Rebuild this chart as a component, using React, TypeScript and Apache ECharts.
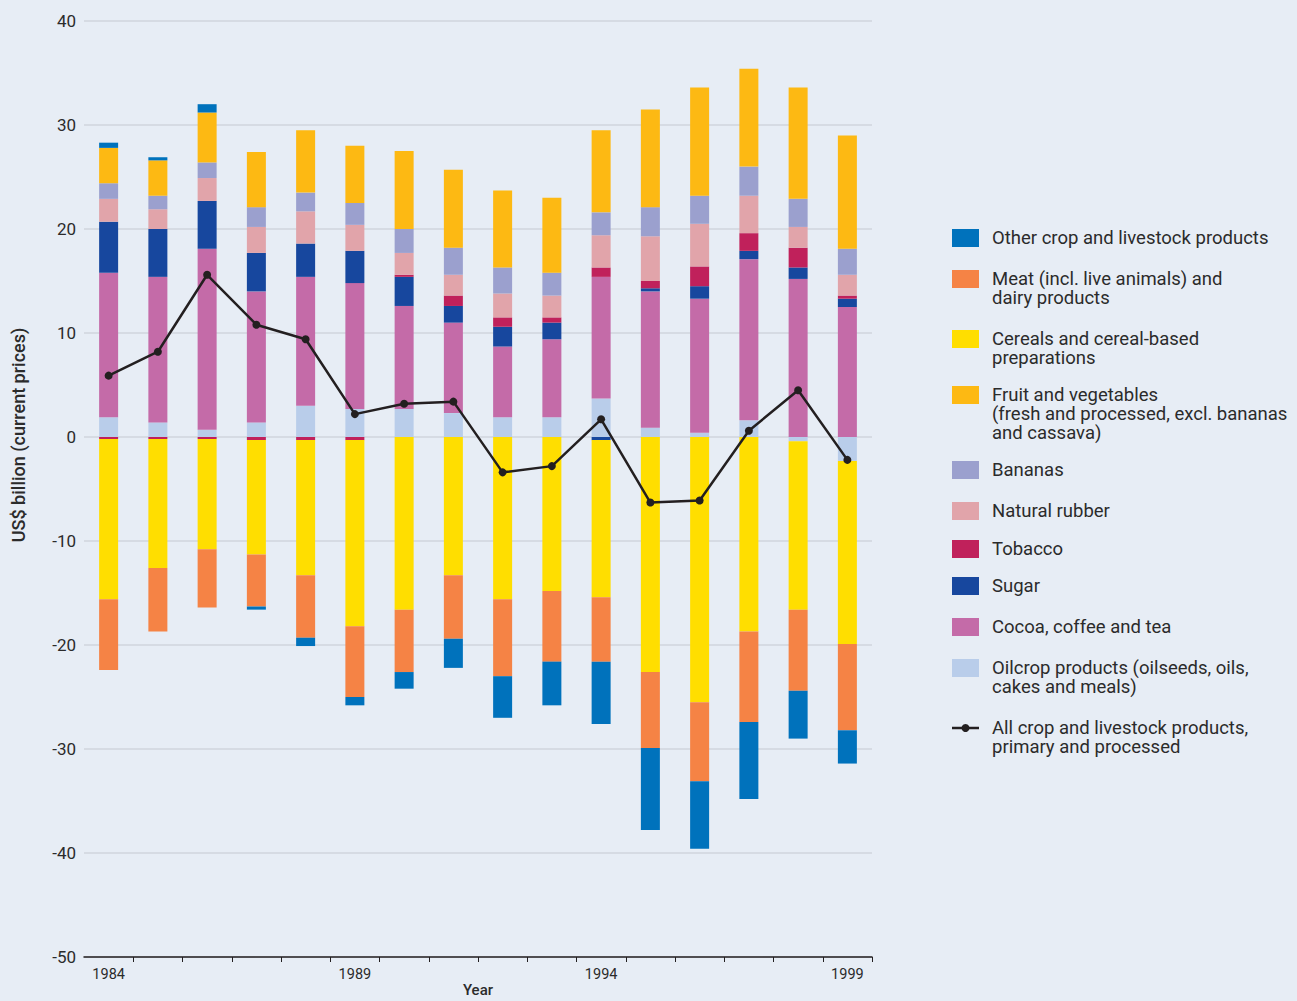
import React, { useEffect, useRef } from "react";
import * as echarts from "echarts";

const years = ["1984","1985","1986","1987","1988","1989","1990","1991","1992","1993","1994","1995","1996","1997","1998","1999"];

const oilcrop = [1.9, 1.4, 0.7, 1.4, 3.0, 2.7, 2.7, 2.3, 1.9, 1.9, 3.7, 0.9, 0.4, 1.6, -0.4, -2.3];
const cocoa = [13.9, 14.0, 17.4, 12.6, 12.4, 12.1, 9.9, 8.7, 6.8, 7.5, 11.7, 13.1, 12.9, 15.5, 15.2, 12.5];
const sugar = [4.9, 4.6, 4.6, 3.7, 3.2, 3.1, 2.8, 1.6, 1.9, 1.6, -0.3, 0.3, 1.2, 0.8, 1.1, 0.8];
const tobacco = [-0.2, -0.2, -0.2, -0.3, -0.3, -0.3, 0.2, 1.0, 0.9, 0.5, 0.9, 0.7, 1.9, 1.7, 1.9, 0.3];
const rubber = [2.2, 1.9, 2.2, 2.5, 3.1, 2.5, 2.1, 2.0, 2.3, 2.1, 3.1, 4.3, 4.1, 3.6, 2.0, 2.0];
const bananas = [1.5, 1.3, 1.5, 1.9, 1.8, 2.1, 2.3, 2.6, 2.5, 2.2, 2.2, 2.8, 2.7, 2.8, 2.7, 2.5];
const fruit = [3.4, 3.4, 4.8, 5.3, 6.0, 5.5, 7.5, 7.5, 7.4, 7.2, 7.9, 9.4, 10.4, 9.4, 10.7, 10.9];
const cereals = [-15.4, -12.4, -10.6, -11.0, -13.0, -17.9, -16.6, -13.3, -15.6, -14.8, -15.1, -22.6, -25.5, -18.7, -16.2, -17.6];
const meat = [-6.8, -6.1, -5.6, -5.0, -6.0, -6.8, -6.0, -6.1, -7.4, -6.8, -6.2, -7.3, -7.6, -8.7, -7.8, -8.3];
const other = [0.5, 0.3, 0.8, -0.3, -0.8, -0.8, -1.6, -2.8, -4.0, -4.2, -6.0, -7.9, -6.5, -7.4, -4.6, -3.2];
const allProducts = [5.9, 8.2, 15.6, 10.8, 9.4, 2.2, 3.2, 3.4, -3.4, -2.8, 1.7, -6.3, -6.1, 0.6, 4.5, -2.2];

const yTicks = [-50, -40, -30, -20, -10, 0, 10, 20, 30, 40];

const seriesNames = {
  oilcrop: "Oilcrop products (oilseeds, oils,\ncakes and meals)",
  cocoa: "Cocoa, coffee and tea",
  sugar: "Sugar",
  tobacco: "Tobacco",
  rubber: "Natural rubber",
  bananas: "Bananas",
  fruit: "Fruit and vegetables\n(fresh and processed, excl. bananas\nand cassava)",
  cereals: "Cereals and cereal-based\npreparations",
  meat: "Meat (incl. live animals) and\ndairy products",
  other: "Other crop and livestock products",
  all: "All crop and livestock products,\nprimary and processed",
};

const colors = {
  oilcrop: "#B9CDEA",
  cocoa: "#C46BA8",
  sugar: "#17479E",
  tobacco: "#C0215B",
  rubber: "#E1A4AA",
  bananas: "#9BA0CE",
  fruit: "#FDB913",
  cereals: "#FFDE00",
  meat: "#F58345",
  other: "#0072BC",
  all: "#231F20",
};

const BG = "#E7EDF5";
const TEXT = "#2B2B2B";
const FONT = "Roboto, 'Noto Sans', sans-serif";

// legend order (top to bottom) with first-line centre y
const legendOrder: [keyof typeof colors, number][] = [
  ["other", 238],
  ["meat", 279],
  ["cereals", 339],
  ["fruit", 395],
  ["bananas", 470],
  ["rubber", 511],
  ["tobacco", 549],
  ["sugar", 586],
  ["cocoa", 627],
  ["oilcrop", 668],
  ["all", 728],
];

export default function App() {
  const ref = useRef<HTMLDivElement>(null);

  useEffect(() => {
    if (!ref.current) return;
    document.body.style.margin = "0";
    document.body.style.background = BG;
    const chart = echarts.init(ref.current, null, { renderer: "svg" });

    const stackData: [keyof typeof colors, number[]][] = [
      ["oilcrop", oilcrop],
      ["cocoa", cocoa],
      ["sugar", sugar],
      ["tobacco", tobacco],
      ["rubber", rubber],
      ["bananas", bananas],
      ["fruit", fruit],
      ["cereals", cereals],
      ["meat", meat],
      ["other", other],
    ];

    const barSeries = stackData.map(([key, data]) => ({
      name: seriesNames[key],
      type: "bar",
      stack: "trade",
      barWidth: 19,
      data,
      itemStyle: { color: colors[key] },
      emphasis: { disabled: true },
    }));

    const lineSeries = {
      name: seriesNames.all,
      type: "line",
      data: allProducts,
      symbol: "circle",
      symbolSize: 8,
      z: 10,
      lineStyle: { color: colors.all, width: 2.5 },
      itemStyle: { color: colors.all },
    };

    const legendGraphics: any[] = [];
    legendOrder.forEach(([key, cy]) => {
      if (key === "all") {
        legendGraphics.push({
          type: "line",
          shape: { x1: 952, y1: cy, x2: 979, y2: cy },
          style: { stroke: colors.all, lineWidth: 2.5 },
        });
        legendGraphics.push({
          type: "circle",
          shape: { cx: 965.5, cy, r: 4 },
          style: { fill: colors.all },
        });
      } else {
        legendGraphics.push({
          type: "rect",
          shape: { x: 952, y: cy - 9, width: 27, height: 18 },
          style: { fill: colors[key] },
        });
      }
      legendGraphics.push({
        type: "text",
        x: 992,
        y: cy - 9.5,
        style: {
          text: seriesNames[key],
          font: `18.5px ${FONT}`,
          fill: TEXT,
          lineHeight: 19,
          verticalAlign: "top",
          align: "left",
        },
      });
    });

    chart.setOption({
      animation: false,
      backgroundColor: BG,
      grid: {
        left: 84,
        right: 425,
        top: 21,
        bottom: 44,
        containLabel: false,
        outerBoundsMode: "none",
      },
      tooltip: { show: false },
      xAxis: {
        type: "category",
        data: years,
        name: "Year",
        nameLocation: "middle",
        nameGap: 25,
        nameMoveOverlap: false,
        nameTextStyle: { color: TEXT, fontFamily: FONT, fontSize: 15, fontWeight: 500 },
        axisLine: { onZero: false, lineStyle: { color: "#231F20", width: 1.5 } },
        axisTick: {
          show: true,
          length: 5,
          interval: (index: number) => index !== 0,
          lineStyle: { color: "#231F20", width: 1 },
        },
        axisLabel: {
          interval: 4,
          color: TEXT,
          fontFamily: FONT,
          fontSize: 14.5,
          margin: 10,
        },
        splitLine: { show: false },
      },
      yAxis: {
        type: "value",
        min: yTicks[0],
        max: yTicks[yTicks.length - 1],
        interval: 10,
        axisLine: { show: false },
        axisTick: { show: false },
        axisLabel: {
          color: TEXT,
          fontFamily: FONT,
          fontSize: 17,
          margin: 8,
        },
        splitLine: { lineStyle: { color: "#D1D5DC", width: 1.5 } },
      },
      graphic: [
        {
          type: "text",
          x: 18,
          y: 435,
          rotation: Math.PI / 2,
          style: {
            text: "US$ billion (current prices)",
            font: `500 18px ${FONT}`,
            fill: TEXT,
            align: "center",
            verticalAlign: "middle",
          },
        },
        ...legendGraphics,
      ],
      series: [...barSeries, lineSeries],
    });

    return () => chart.dispose();
  }, []);

  return <div ref={ref} style={{ width: 1297, height: 1001 }} />;
}
